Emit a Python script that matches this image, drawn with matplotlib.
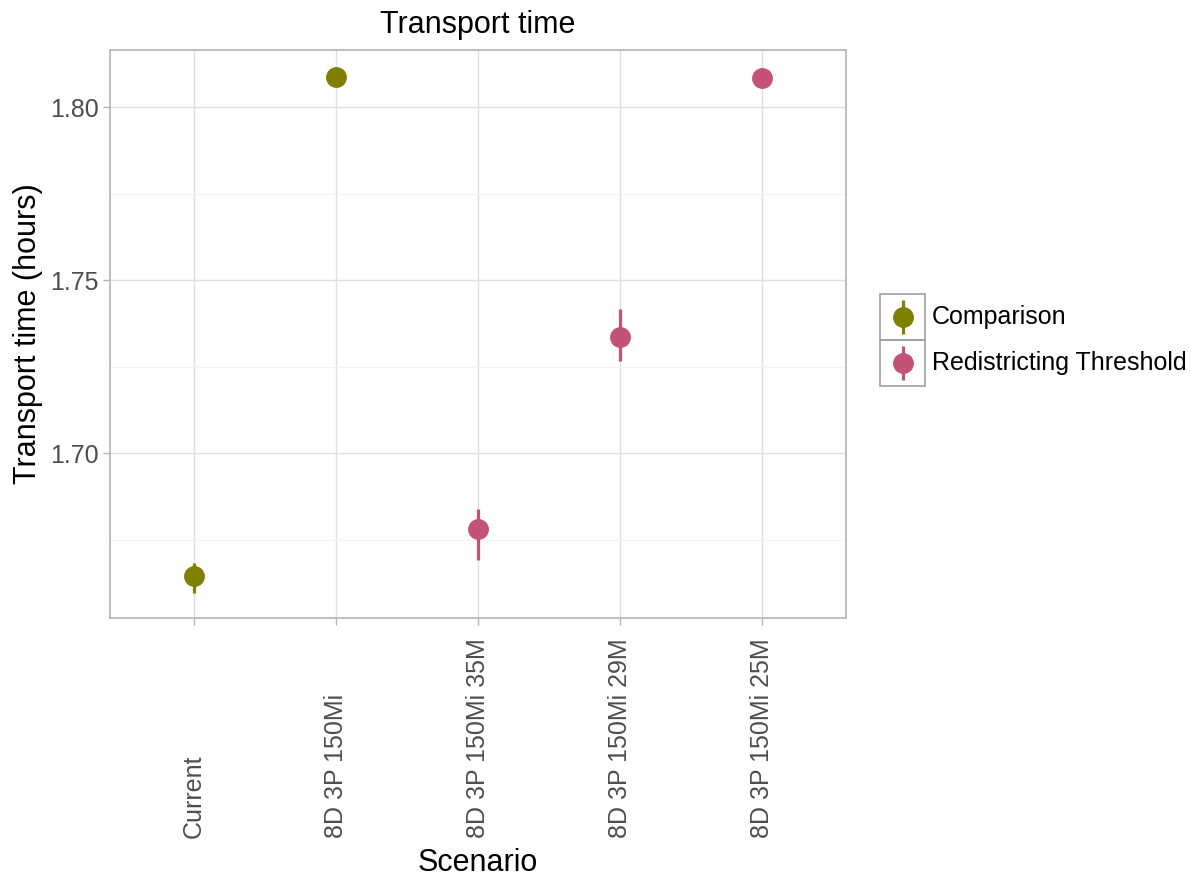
import matplotlib
matplotlib.use("Agg")
import matplotlib.pyplot as plt
import matplotlib.transforms as mtransforms
from matplotlib.patches import Rectangle

plt.rcParams['font.family'] = ['Liberation Sans', 'DejaVu Sans']

# Data
scenarios = ["Current", "8D 3P 150Mi", "8D 3P 150Mi 35M", "8D 3P 150Mi 29M", "8D 3P 150Mi 25M"]
groups = ["Comparison", "Comparison", "Redistricting Threshold",
          "Redistricting Threshold", "Redistricting Threshold"]
means = [1.6645, 1.8088, 1.6780, 1.7335, 1.8085]
lower = [1.6595, 1.8088, 1.6690, 1.7266, 1.8085]
upper = [1.6681, 1.8088, 1.6838, 1.7416, 1.8085]

colors = {"Comparison": "#808000", "Redistricting Threshold": "#C45277"}

fig = plt.figure(figsize=(11.91, 8.81), dpi=100)
ax = fig.add_axes([0.0924, 0.2985, 0.6179, 0.6447])

xpos = list(range(1, len(scenarios) + 1))
for grp in colors:
    idx = [i for i, g in enumerate(groups) if g == grp]
    xs = [xpos[i] for i in idx]
    ys = [means[i] for i in idx]
    err = [[means[i] - lower[i] for i in idx], [upper[i] - means[i] for i in idx]]
    ax.errorbar(xs, ys, yerr=err, fmt='o', color=colors[grp], ms=14,
                elinewidth=2.3, capsize=0, label=grp, zorder=3)

ax.set_xlim(0.41, 5.59)
ax.set_ylim(1.6523, 1.8165)
ax.set_xticks(xpos)
ax.set_xticklabels([])
ax.set_yticks([1.70, 1.75, 1.80])
ax.set_yticklabels(["1.70", "1.75", "1.80"])
ax.set_yticks([1.675, 1.725, 1.775], minor=True)
ax.tick_params(axis='both', which='major', labelsize=18, colors='#B3B3B3',
               labelcolor='#4D4D4D', length=5, width=1, pad=3)
ax.tick_params(axis='y', which='minor', length=0)
ax.grid(True, which='major', color='#DEDEDE', linewidth=1)
ax.grid(True, which='minor', axis='y', color='#F3F3F3', linewidth=0.8)
ax.set_axisbelow(True)
for s in ax.spines.values():
    s.set_color('#B3B3B3')
    s.set_linewidth(1.2)

# rotated x labels, bottom-aligned like ggplot
trans = mtransforms.blended_transform_factory(ax.transData, ax.transAxes)
for x, lab in zip(xpos, scenarios):
    ax.text(x, -0.3873, lab, rotation=90, ha='center', va='bottom',
            fontsize=18, color='#4D4D4D', transform=trans, clip_on=False)

ax.set_title("Transport time", fontsize=22, pad=12)
ax.set_xlabel("Scenario", fontsize=22)
ax.xaxis.set_label_coords(0.5, -0.405)
ax.set_ylabel("Transport time (hours)", fontsize=22, labelpad=5)

# legend with boxed keys
lax = fig.add_axes([880 / 1191, 1 - 386 / 881, 45 / 1191, 92 / 881])
lax.set_xlim(0, 1)
lax.set_ylim(0, 2)
lax.axis('off')
for k, grp in enumerate(colors):
    yc = 1.5 - k
    lax.add_patch(Rectangle((0, yc - 0.5), 1, 1, fill=False, edgecolor='#A0A0A0',
                            linewidth=1.2, clip_on=False))
    lax.plot([0.5, 0.5], [yc - 0.38, yc + 0.38], color=colors[grp], lw=2.3,
             solid_capstyle='butt', clip_on=False)
    lax.plot([0.5], [yc], 'o', color=colors[grp], ms=14, clip_on=False)
    lax.text(1.156, yc, grp, fontsize=18, va='center', ha='left', clip_on=False)

fig.savefig("out.png", dpi=100)
